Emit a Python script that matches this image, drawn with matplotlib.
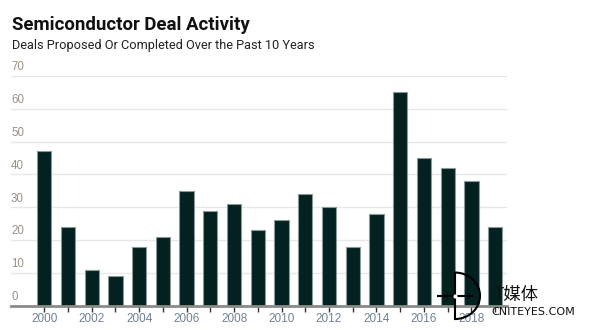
import numpy as np
import matplotlib
matplotlib.use("Agg")
import matplotlib.pyplot as plt
from matplotlib.patches import Arc

years = list(range(2000, 2020))
deals = [47, 24, 11, 9, 18, 21, 35, 29, 31, 23, 26, 34, 30, 18, 28, 65, 45, 42, 38, 24]
yticks = [0, 10, 20, 30, 40, 50, 60, 70]

W, H = 589, 330
fig = plt.figure(figsize=(W / 100, H / 100), dpi=100)

# axes placed by pixel
left, right, top, base = 11, 507, 76, 305.7
ax = fig.add_axes([left / W, (H - base) / H, (right - left) / W, (base - top) / H])

x = np.arange(len(years))
ax.bar(x, deals, width=0.6, color="#032120", edgecolor="#8a9898", linewidth=0.8, zorder=3)

ax.set_xlim(-1.4, 19.5)
ax.set_ylim(0, 70)
for v in yticks[1:]:
    ax.axhline(v, color="#e8e8e8", linewidth=1, zorder=1)
for v in yticks:
    ax.text(-1.4, v + 0.8, str(v), fontsize=8.3, color="#9c9184", ha="left", va="bottom",
            family="Liberation Sans", clip_on=False)

ax.set_yticks([])
ax.set_xticks(x)
ax.set_xticklabels([str(y) if y % 2 == 0 else "" for y in years], fontsize=8.5,
                   color="#6f8196", family="Liberation Sans")
ax.tick_params(axis="x", length=4, width=1, color="#333333", pad=1.5)
for s in ["top", "right", "left"]:
    ax.spines[s].set_visible(False)
ax.spines["bottom"].set_color("#8a8a8a")
ax.spines["bottom"].set_linewidth(2)
ax.spines["bottom"].set_zorder(4)

fig.text(12 / W, 1 - 30 / H, "Semiconductor Deal Activity", fontsize=13.4, fontweight="bold",
         family="Roboto", color="#111111", ha="left", va="baseline")
fig.text(12 / W, 1 - 49 / H, "Deals Proposed Or Completed Over the Past 10 Years", fontsize=9.2,
         family="Roboto", color="#222222", ha="left", va="baseline")

# watermark overlay
ov = fig.add_axes([0, 0, 1, 1], zorder=10)
ov.set_xlim(0, W)
ov.set_ylim(H, 0)
ov.axis("off")
ov.plot([455, 455], [272.5, 319], color="black", lw=1.5)
ov.add_patch(Arc((455, 295.8), 50, 46.5, theta1=-90, theta2=90, color="black", lw=1.5))
ov.plot([438, 472], [295.5, 295.5], color="black", lw=1.5)
ov.plot([455], [295.5], "o", color="white", ms=2)
ov.text(494, 295, "T媒体", fontsize=12.5, family=["Noto Sans CJK SC", "DejaVu Sans"],
        color="#111111", ha="left", va="center")
ov.text(491, 312, "CNITEYES.COM", fontsize=8, family="DejaVu Sans", color="#111111",
        ha="left", va="center")

fig.savefig("out.png", dpi=100)
